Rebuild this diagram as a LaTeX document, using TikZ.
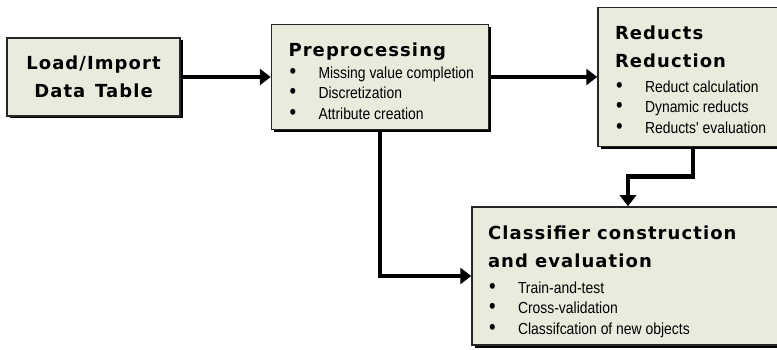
\documentclass[tikz,border=0pt]{standalone}
\usepackage{fontspec}
\setmainfont{Liberation Sans}
\newfontfamily\headfont[LetterSpace=6]{DejaVu Sans}
\newfontfamily\itemfont[FakeStretch=0.87]{Liberation Sans}
\usepackage{xcolor}
\usepackage{tikz}
\usetikzlibrary{arrows.meta, positioning, shadows, calc}
\setlength{\parindent}{0pt}

\definecolor{boxfill}{RGB}{234,234,221}
\newcommand{\boxhead}{\headfont\bfseries\fontsize{18}{28}\selectfont\spaceskip=7pt plus 2pt}
\newcommand{\boxlist}{\itemfont\fontsize{16}{20.5}\selectfont}
\newcommand{\bitem}[1]{\par\hspace*{1pt}\makebox[29pt][l]{\raisebox{0.3pt}{\scalebox{1.35}{\textbullet}}}#1}
% box body: height, width, first baseline, left margin, text
\newcommand{\stagebody}[5]{\parbox[c][#1][t]{#2}{\raggedright\leftskip=#4\rule{0pt}{#3}#5\par}}

\begin{document}
\begin{tikzpicture}[
    x=1pt, y=-1pt,
    stage/.style={rectangle, draw=black!85, line width=1.5pt, fill=boxfill, drop shadow={shadow xshift=2.5pt, shadow yshift=-2.5pt, fill=black, opacity=1}, inner sep=0pt},
    arrow/.style={-{Triangle[width=16pt,length=11pt]}, line width=4.5pt, draw=black}
]
\useasboundingbox (0,0) rectangle (777,350);

% Stages
\node[stage, align=center, minimum width=173pt, minimum height=78pt, text width=173pt] (load) at (93.5,77) {\boxhead Load/Import\par Data Table\par};
\node[stage, right=90pt of load] (prep) {\stagebody{105pt}{217pt}{32pt}{17pt}{{\boxhead Preprocessing\par}\boxlist\vspace{1.5pt}\bitem{Missing value completion}\bitem{Discretization}\bitem{Attribute creation}}};
\node[stage, right=108pt of prep] (red) {\stagebody{139pt}{190pt}{32pt}{17pt}{{\boxhead Reducts\par Reduction\par}\boxlist\vspace{4.5pt}\bitem{Reduct calculation}\bitem{Dynamic reducts}\bitem{Reducts' evaluation}}};
\node[stage] (cls) at (628,276) {\stagebody{138pt}{312pt}{32pt}{16pt}{{\boxhead Classifier construction\par and evaluation\par}\boxlist\vspace{6pt}\bitem{Train-and-test}\bitem{Cross-validation}\bitem{Classifcation of new objects}}};

% Connectors
\coordinate (turn) at ($(red.south)!0.5!(cls.north)$);
\draw[arrow] (load.east) -- (load.east -| prep.west);
\draw[arrow] (prep.east) -- (prep.east -| red.west);
\draw[arrow] (prep.south) |- (cls.west);
\draw[arrow] (red.south) |- (turn) -| (cls.north);

\end{tikzpicture}
\end{document}
